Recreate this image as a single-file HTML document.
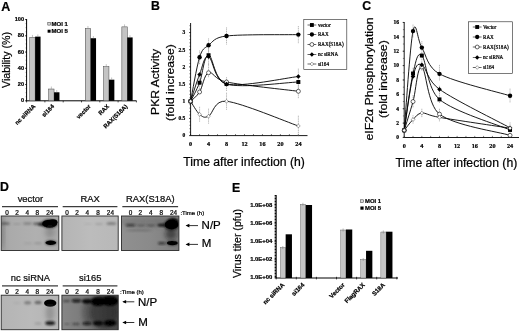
<!DOCTYPE html><html><head><meta charset="utf-8"><title>Figure</title>
<style>html,body{margin:0;padding:0;background:#fff;}svg{display:block;}text{stroke:#000;stroke-width:0.22px;}</style></head><body>
<svg width="520" height="332" viewBox="0 0 520 332">
<defs><filter id="b1" x="-50%" y="-50%" width="200%" height="200%"><feGaussianBlur stdDeviation="1.2"/></filter>
<filter id="b2" x="-50%" y="-50%" width="200%" height="200%"><feGaussianBlur stdDeviation="2"/></filter>
<filter id="b0" x="-50%" y="-50%" width="200%" height="200%"><feGaussianBlur stdDeviation="0.7"/></filter>
<filter id="soft" x="-5%" y="-5%" width="110%" height="110%"><feGaussianBlur stdDeviation="0.35"/></filter></defs>
<rect width="520" height="332" fill="#fff"/>
<g filter="url(#soft)">
<text x="1.2" y="11.1" font-family="Liberation Sans, sans-serif" font-size="12.5" font-weight="bold" fill="#000">A</text>
<text x="150.9" y="10.4" font-family="Liberation Sans, sans-serif" font-size="12.3" font-weight="bold" fill="#000">B</text>
<text x="362.3" y="10.3" font-family="Liberation Sans, sans-serif" font-size="12.3" font-weight="bold" fill="#000">C</text>
<text x="-0.1" y="191.4" font-family="Liberation Sans, sans-serif" font-size="12.3" font-weight="bold" fill="#000">D</text>
<text x="232.1" y="191.5" font-family="Liberation Sans, sans-serif" font-size="12.3" font-weight="bold" fill="#000">E</text>
<g>
<line x1="26.60" y1="19.00" x2="26.60" y2="100.80" stroke="#000" stroke-width="1"/>
<line x1="26.10" y1="100.80" x2="136.50" y2="100.80" stroke="#000" stroke-width="1"/>
<line x1="25.10" y1="100.80" x2="26.60" y2="100.80" stroke="#000" stroke-width="0.7"/>
<text x="24.0" y="102.3" font-family="Liberation Sans, sans-serif" font-size="5.6" font-weight="bold" text-anchor="end" fill="#000">0</text>
<line x1="25.10" y1="84.55" x2="26.60" y2="84.55" stroke="#000" stroke-width="0.7"/>
<text x="24.0" y="86.0" font-family="Liberation Sans, sans-serif" font-size="5.6" font-weight="bold" text-anchor="end" fill="#000">20</text>
<line x1="25.10" y1="68.30" x2="26.60" y2="68.30" stroke="#000" stroke-width="0.7"/>
<text x="24.0" y="69.8" font-family="Liberation Sans, sans-serif" font-size="5.6" font-weight="bold" text-anchor="end" fill="#000">40</text>
<line x1="25.10" y1="52.05" x2="26.60" y2="52.05" stroke="#000" stroke-width="0.7"/>
<text x="24.0" y="53.5" font-family="Liberation Sans, sans-serif" font-size="5.6" font-weight="bold" text-anchor="end" fill="#000">60</text>
<line x1="25.10" y1="35.80" x2="26.60" y2="35.80" stroke="#000" stroke-width="0.7"/>
<text x="24.0" y="37.3" font-family="Liberation Sans, sans-serif" font-size="5.6" font-weight="bold" text-anchor="end" fill="#000">80</text>
<line x1="25.10" y1="19.55" x2="26.60" y2="19.55" stroke="#000" stroke-width="0.7"/>
<text x="24.0" y="21.0" font-family="Liberation Sans, sans-serif" font-size="5.6" font-weight="bold" text-anchor="end" fill="#000">100</text>
<line x1="25.60" y1="100.80" x2="26.60" y2="100.80" stroke="#000" stroke-width="0.4"/>
<line x1="25.60" y1="96.74" x2="26.60" y2="96.74" stroke="#000" stroke-width="0.4"/>
<line x1="25.60" y1="92.67" x2="26.60" y2="92.67" stroke="#000" stroke-width="0.4"/>
<line x1="25.60" y1="88.61" x2="26.60" y2="88.61" stroke="#000" stroke-width="0.4"/>
<line x1="25.60" y1="84.55" x2="26.60" y2="84.55" stroke="#000" stroke-width="0.4"/>
<line x1="25.60" y1="80.49" x2="26.60" y2="80.49" stroke="#000" stroke-width="0.4"/>
<line x1="25.60" y1="76.42" x2="26.60" y2="76.42" stroke="#000" stroke-width="0.4"/>
<line x1="25.60" y1="72.36" x2="26.60" y2="72.36" stroke="#000" stroke-width="0.4"/>
<line x1="25.60" y1="68.30" x2="26.60" y2="68.30" stroke="#000" stroke-width="0.4"/>
<line x1="25.60" y1="64.24" x2="26.60" y2="64.24" stroke="#000" stroke-width="0.4"/>
<line x1="25.60" y1="60.17" x2="26.60" y2="60.17" stroke="#000" stroke-width="0.4"/>
<line x1="25.60" y1="56.11" x2="26.60" y2="56.11" stroke="#000" stroke-width="0.4"/>
<line x1="25.60" y1="52.05" x2="26.60" y2="52.05" stroke="#000" stroke-width="0.4"/>
<line x1="25.60" y1="47.99" x2="26.60" y2="47.99" stroke="#000" stroke-width="0.4"/>
<line x1="25.60" y1="43.92" x2="26.60" y2="43.92" stroke="#000" stroke-width="0.4"/>
<line x1="25.60" y1="39.86" x2="26.60" y2="39.86" stroke="#000" stroke-width="0.4"/>
<line x1="25.60" y1="35.80" x2="26.60" y2="35.80" stroke="#000" stroke-width="0.4"/>
<line x1="25.60" y1="31.74" x2="26.60" y2="31.74" stroke="#000" stroke-width="0.4"/>
<line x1="25.60" y1="27.67" x2="26.60" y2="27.67" stroke="#000" stroke-width="0.4"/>
<line x1="25.60" y1="23.61" x2="26.60" y2="23.61" stroke="#000" stroke-width="0.4"/>
<line x1="25.60" y1="19.55" x2="26.60" y2="19.55" stroke="#000" stroke-width="0.4"/>
<line x1="26.60" y1="100.80" x2="26.60" y2="102.40" stroke="#000" stroke-width="0.7"/>
<line x1="44.90" y1="100.80" x2="44.90" y2="102.40" stroke="#000" stroke-width="0.7"/>
<line x1="63.20" y1="100.80" x2="63.20" y2="102.40" stroke="#000" stroke-width="0.7"/>
<line x1="81.50" y1="100.80" x2="81.50" y2="102.40" stroke="#000" stroke-width="0.7"/>
<line x1="99.80" y1="100.80" x2="99.80" y2="102.40" stroke="#000" stroke-width="0.7"/>
<line x1="118.10" y1="100.80" x2="118.10" y2="102.40" stroke="#000" stroke-width="0.7"/>
<line x1="136.40" y1="100.80" x2="136.40" y2="102.40" stroke="#000" stroke-width="0.7"/>
<rect x="29.75" y="37.42" width="5.40" height="63.38" fill="#c4c4c4" stroke="#444" stroke-width="0.5"/>
<rect x="35.15" y="36.61" width="5.40" height="64.19" fill="#000"/>
<line x1="32.45" y1="34.92" x2="32.45" y2="37.42" stroke="#888" stroke-width="0.5"/>
<line x1="37.85" y1="34.41" x2="37.85" y2="36.61" stroke="#888" stroke-width="0.5"/>
<text transform="translate(35.75,106.80) rotate(-45)" font-family="Liberation Sans, sans-serif" stroke="none" font-size="5.9" font-weight="bold" text-anchor="end" fill="#000">nc siRNA</text>
<rect x="48.65" y="89.02" width="5.40" height="11.78" fill="#c4c4c4" stroke="#444" stroke-width="0.5"/>
<rect x="54.05" y="92.27" width="5.40" height="8.53" fill="#000"/>
<line x1="51.35" y1="86.52" x2="51.35" y2="89.02" stroke="#888" stroke-width="0.5"/>
<line x1="56.75" y1="90.07" x2="56.75" y2="92.27" stroke="#888" stroke-width="0.5"/>
<text transform="translate(54.65,106.80) rotate(-45)" font-family="Liberation Sans, sans-serif" stroke="none" font-size="5.9" font-weight="bold" text-anchor="end" fill="#000">si164</text>
<rect x="85.25" y="28.49" width="5.40" height="72.31" fill="#c4c4c4" stroke="#444" stroke-width="0.5"/>
<rect x="90.65" y="38.24" width="5.40" height="62.56" fill="#000"/>
<line x1="87.95" y1="25.99" x2="87.95" y2="28.49" stroke="#888" stroke-width="0.5"/>
<line x1="93.35" y1="36.04" x2="93.35" y2="38.24" stroke="#888" stroke-width="0.5"/>
<text transform="translate(91.25,106.80) rotate(-45)" font-family="Liberation Sans, sans-serif" stroke="none" font-size="5.9" font-weight="bold" text-anchor="end" fill="#000">vector</text>
<rect x="103.55" y="66.67" width="5.40" height="34.12" fill="#c4c4c4" stroke="#444" stroke-width="0.5"/>
<rect x="108.95" y="79.67" width="5.40" height="21.12" fill="#000"/>
<line x1="106.25" y1="64.17" x2="106.25" y2="66.67" stroke="#888" stroke-width="0.5"/>
<line x1="111.65" y1="77.47" x2="111.65" y2="79.67" stroke="#888" stroke-width="0.5"/>
<text transform="translate(109.55,106.80) rotate(-45)" font-family="Liberation Sans, sans-serif" stroke="none" font-size="5.9" font-weight="bold" text-anchor="end" fill="#000">RAX</text>
<rect x="121.85" y="26.86" width="5.40" height="73.94" fill="#c4c4c4" stroke="#444" stroke-width="0.5"/>
<rect x="127.25" y="37.42" width="5.40" height="63.38" fill="#000"/>
<line x1="124.55" y1="24.36" x2="124.55" y2="26.86" stroke="#888" stroke-width="0.5"/>
<line x1="129.95" y1="35.22" x2="129.95" y2="37.42" stroke="#888" stroke-width="0.5"/>
<text transform="translate(127.85,106.80) rotate(-45)" font-family="Liberation Sans, sans-serif" stroke="none" font-size="5.9" font-weight="bold" text-anchor="end" fill="#000">RAX(S18A)</text>
<rect x="47.8" y="22.5" width="2.6" height="2.6" fill="#d8d8d8" stroke="#333" stroke-width="0.5"/>
<rect x="47.6" y="29.7" width="3" height="3" fill="#000"/>
<text x="51.5" y="26" font-family="Liberation Sans, sans-serif" font-size="6" font-weight="bold" fill="#000">MOI 1</text>
<text x="51.5" y="33.3" font-family="Liberation Sans, sans-serif" font-size="6" font-weight="bold" fill="#000">MOI 5</text>
<text transform="translate(10.3,88) rotate(-90)" font-family="Liberation Sans, sans-serif" font-size="11.5" textLength="56" lengthAdjust="spacingAndGlyphs" fill="#000">Viability (%)</text>
</g>
<g>
<line x1="190.60" y1="23.00" x2="190.60" y2="135.60" stroke="#000" stroke-width="0.9"/>
<line x1="190.60" y1="135.60" x2="307.50" y2="135.60" stroke="#000" stroke-width="0.9"/>
<line x1="189.10" y1="135.60" x2="190.60" y2="135.60" stroke="#000" stroke-width="0.6"/>
<text x="185.3" y="137.4" font-family="Liberation Serif, serif" font-size="5.5" font-weight="bold" text-anchor="end" fill="#000">0</text>
<line x1="189.10" y1="118.42" x2="190.60" y2="118.42" stroke="#000" stroke-width="0.6"/>
<text x="185.3" y="120.2" font-family="Liberation Serif, serif" font-size="5.5" font-weight="bold" text-anchor="end" fill="#000">0.5</text>
<line x1="189.10" y1="101.25" x2="190.60" y2="101.25" stroke="#000" stroke-width="0.6"/>
<text x="185.3" y="103.0" font-family="Liberation Serif, serif" font-size="5.5" font-weight="bold" text-anchor="end" fill="#000">1</text>
<line x1="189.10" y1="84.07" x2="190.60" y2="84.07" stroke="#000" stroke-width="0.6"/>
<text x="185.3" y="85.9" font-family="Liberation Serif, serif" font-size="5.5" font-weight="bold" text-anchor="end" fill="#000">1.5</text>
<line x1="189.10" y1="66.90" x2="190.60" y2="66.90" stroke="#000" stroke-width="0.6"/>
<text x="185.3" y="68.7" font-family="Liberation Serif, serif" font-size="5.5" font-weight="bold" text-anchor="end" fill="#000">2</text>
<line x1="189.10" y1="49.72" x2="190.60" y2="49.72" stroke="#000" stroke-width="0.6"/>
<text x="185.3" y="51.5" font-family="Liberation Serif, serif" font-size="5.5" font-weight="bold" text-anchor="end" fill="#000">2.5</text>
<line x1="189.10" y1="32.55" x2="190.60" y2="32.55" stroke="#000" stroke-width="0.6"/>
<text x="185.3" y="34.3" font-family="Liberation Serif, serif" font-size="5.5" font-weight="bold" text-anchor="end" fill="#000">3</text>
<line x1="189.30" y1="135.60" x2="190.60" y2="135.60" stroke="#000" stroke-width="0.45"/>
<line x1="189.30" y1="132.16" x2="190.60" y2="132.16" stroke="#000" stroke-width="0.45"/>
<line x1="189.30" y1="128.73" x2="190.60" y2="128.73" stroke="#000" stroke-width="0.45"/>
<line x1="189.30" y1="125.29" x2="190.60" y2="125.29" stroke="#000" stroke-width="0.45"/>
<line x1="189.30" y1="121.86" x2="190.60" y2="121.86" stroke="#000" stroke-width="0.45"/>
<line x1="189.30" y1="118.42" x2="190.60" y2="118.42" stroke="#000" stroke-width="0.45"/>
<line x1="189.30" y1="114.99" x2="190.60" y2="114.99" stroke="#000" stroke-width="0.45"/>
<line x1="189.30" y1="111.55" x2="190.60" y2="111.55" stroke="#000" stroke-width="0.45"/>
<line x1="189.30" y1="108.12" x2="190.60" y2="108.12" stroke="#000" stroke-width="0.45"/>
<line x1="189.30" y1="104.69" x2="190.60" y2="104.69" stroke="#000" stroke-width="0.45"/>
<line x1="189.30" y1="101.25" x2="190.60" y2="101.25" stroke="#000" stroke-width="0.45"/>
<line x1="189.30" y1="97.81" x2="190.60" y2="97.81" stroke="#000" stroke-width="0.45"/>
<line x1="189.30" y1="94.38" x2="190.60" y2="94.38" stroke="#000" stroke-width="0.45"/>
<line x1="189.30" y1="90.94" x2="190.60" y2="90.94" stroke="#000" stroke-width="0.45"/>
<line x1="189.30" y1="87.51" x2="190.60" y2="87.51" stroke="#000" stroke-width="0.45"/>
<line x1="189.30" y1="84.07" x2="190.60" y2="84.07" stroke="#000" stroke-width="0.45"/>
<line x1="189.30" y1="80.64" x2="190.60" y2="80.64" stroke="#000" stroke-width="0.45"/>
<line x1="189.30" y1="77.20" x2="190.60" y2="77.20" stroke="#000" stroke-width="0.45"/>
<line x1="189.30" y1="73.77" x2="190.60" y2="73.77" stroke="#000" stroke-width="0.45"/>
<line x1="189.30" y1="70.33" x2="190.60" y2="70.33" stroke="#000" stroke-width="0.45"/>
<line x1="189.30" y1="66.90" x2="190.60" y2="66.90" stroke="#000" stroke-width="0.45"/>
<line x1="189.30" y1="63.46" x2="190.60" y2="63.46" stroke="#000" stroke-width="0.45"/>
<line x1="189.30" y1="60.03" x2="190.60" y2="60.03" stroke="#000" stroke-width="0.45"/>
<line x1="189.30" y1="56.59" x2="190.60" y2="56.59" stroke="#000" stroke-width="0.45"/>
<line x1="189.30" y1="53.16" x2="190.60" y2="53.16" stroke="#000" stroke-width="0.45"/>
<line x1="189.30" y1="49.72" x2="190.60" y2="49.72" stroke="#000" stroke-width="0.45"/>
<line x1="189.30" y1="46.29" x2="190.60" y2="46.29" stroke="#000" stroke-width="0.45"/>
<line x1="189.30" y1="42.85" x2="190.60" y2="42.85" stroke="#000" stroke-width="0.45"/>
<line x1="189.30" y1="39.42" x2="190.60" y2="39.42" stroke="#000" stroke-width="0.45"/>
<line x1="189.30" y1="35.98" x2="190.60" y2="35.98" stroke="#000" stroke-width="0.45"/>
<line x1="189.30" y1="32.55" x2="190.60" y2="32.55" stroke="#000" stroke-width="0.45"/>
<line x1="189.30" y1="29.11" x2="190.60" y2="29.11" stroke="#000" stroke-width="0.45"/>
<line x1="189.30" y1="25.68" x2="190.60" y2="25.68" stroke="#000" stroke-width="0.45"/>
<line x1="190.60" y1="134.00" x2="190.60" y2="135.60" stroke="#000" stroke-width="0.5"/>
<line x1="199.58" y1="134.00" x2="199.58" y2="135.60" stroke="#000" stroke-width="0.5"/>
<line x1="208.56" y1="134.00" x2="208.56" y2="135.60" stroke="#000" stroke-width="0.5"/>
<line x1="217.54" y1="134.00" x2="217.54" y2="135.60" stroke="#000" stroke-width="0.5"/>
<line x1="226.52" y1="134.00" x2="226.52" y2="135.60" stroke="#000" stroke-width="0.5"/>
<line x1="235.50" y1="134.00" x2="235.50" y2="135.60" stroke="#000" stroke-width="0.5"/>
<line x1="244.48" y1="134.00" x2="244.48" y2="135.60" stroke="#000" stroke-width="0.5"/>
<line x1="253.46" y1="134.00" x2="253.46" y2="135.60" stroke="#000" stroke-width="0.5"/>
<line x1="262.44" y1="134.00" x2="262.44" y2="135.60" stroke="#000" stroke-width="0.5"/>
<line x1="271.42" y1="134.00" x2="271.42" y2="135.60" stroke="#000" stroke-width="0.5"/>
<line x1="280.40" y1="134.00" x2="280.40" y2="135.60" stroke="#000" stroke-width="0.5"/>
<line x1="289.38" y1="134.00" x2="289.38" y2="135.60" stroke="#000" stroke-width="0.5"/>
<line x1="298.36" y1="134.00" x2="298.36" y2="135.60" stroke="#000" stroke-width="0.5"/>
<text x="190.6" y="146.4" font-family="Liberation Serif, serif" font-size="6.2" font-weight="bold" text-anchor="middle" fill="#000">0</text>
<text x="208.6" y="146.4" font-family="Liberation Serif, serif" font-size="6.2" font-weight="bold" text-anchor="middle" fill="#000">4</text>
<text x="226.5" y="146.4" font-family="Liberation Serif, serif" font-size="6.2" font-weight="bold" text-anchor="middle" fill="#000">8</text>
<text x="244.5" y="146.4" font-family="Liberation Serif, serif" font-size="6.2" font-weight="bold" text-anchor="middle" fill="#000">12</text>
<text x="262.4" y="146.4" font-family="Liberation Serif, serif" font-size="6.2" font-weight="bold" text-anchor="middle" fill="#000">16</text>
<text x="280.4" y="146.4" font-family="Liberation Serif, serif" font-size="6.2" font-weight="bold" text-anchor="middle" fill="#000">20</text>
<text x="298.4" y="146.4" font-family="Liberation Serif, serif" font-size="6.2" font-weight="bold" text-anchor="middle" fill="#000">24</text>
<line x1="199.58" y1="50.41" x2="199.58" y2="64.15" stroke="#999" stroke-width="0.7" stroke-dasharray="1.2,0.6"/>
<line x1="208.56" y1="38.39" x2="208.56" y2="52.13" stroke="#999" stroke-width="0.7" stroke-dasharray="1.2,0.6"/>
<line x1="226.52" y1="27.40" x2="226.52" y2="44.57" stroke="#999" stroke-width="0.7" stroke-dasharray="1.2,0.6"/>
<line x1="298.36" y1="26.02" x2="298.36" y2="43.20" stroke="#999" stroke-width="0.7" stroke-dasharray="1.2,0.6"/>
<line x1="208.56" y1="48.01" x2="208.56" y2="65.18" stroke="#999" stroke-width="0.7" stroke-dasharray="1.2,0.6"/>
<line x1="208.56" y1="63.46" x2="208.56" y2="77.20" stroke="#999" stroke-width="0.7" stroke-dasharray="1.2,0.6"/>
<line x1="226.52" y1="77.20" x2="226.52" y2="90.94" stroke="#999" stroke-width="0.7" stroke-dasharray="1.2,0.6"/>
<line x1="298.36" y1="68.62" x2="298.36" y2="92.66" stroke="#999" stroke-width="0.7" stroke-dasharray="1.2,0.6"/>
<line x1="298.36" y1="84.42" x2="298.36" y2="98.16" stroke="#999" stroke-width="0.7" stroke-dasharray="1.2,0.6"/>
<line x1="199.58" y1="106.75" x2="199.58" y2="121.86" stroke="#999" stroke-width="0.7" stroke-dasharray="1.2,0.6"/>
<line x1="208.56" y1="108.64" x2="208.56" y2="123.75" stroke="#999" stroke-width="0.7" stroke-dasharray="1.2,0.6"/>
<line x1="226.52" y1="92.66" x2="226.52" y2="109.84" stroke="#999" stroke-width="0.7" stroke-dasharray="1.2,0.6"/>
<line x1="298.36" y1="115.68" x2="298.36" y2="136.29" stroke="#999" stroke-width="0.7" stroke-dasharray="1.2,0.6"/>
<line x1="199.58" y1="75.49" x2="199.58" y2="92.66" stroke="#999" stroke-width="0.7" stroke-dasharray="1.2,0.6"/>
<path d="M190.60,101.25 C192.10,98.16 196.59,90.37 199.58,82.70 C202.57,75.03 204.07,54.99 208.56,55.22 C213.05,55.45 213.95,80.32 226.52,84.07 C241.49,88.54 286.39,82.36 298.36,82.01" fill="none" stroke="#000" stroke-width="0.9"/>
<path d="M190.60,101.25 C192.10,93.92 196.59,66.61 199.58,57.28 C202.57,47.95 204.07,48.81 208.56,45.26 C213.05,41.71 213.95,37.48 226.52,35.98 C241.49,34.21 286.39,34.84 298.36,34.61" fill="none" stroke="#000" stroke-width="0.9"/>
<path d="M190.60,101.25 C192.10,99.70 196.59,96.73 199.58,91.98 C202.57,87.22 204.07,74.40 208.56,72.74 C213.05,71.08 213.95,79.42 226.52,82.01 C241.49,85.11 286.39,89.74 298.36,91.29" fill="none" stroke="#000" stroke-width="0.9"/>
<path d="M190.60,101.25 C192.10,96.78 196.59,81.90 199.58,74.46 C202.57,67.01 204.07,54.99 208.56,56.59 C213.05,58.20 213.95,81.29 226.52,84.07 C241.49,87.40 286.39,77.78 298.36,76.52" fill="none" stroke="#000" stroke-width="0.9"/>
<path d="M190.60,101.25 C192.10,103.43 196.59,111.81 199.58,114.30 C202.57,116.79 204.07,118.37 208.56,116.19 C213.05,114.02 213.95,99.88 226.52,101.25 C241.49,102.88 286.39,121.86 298.36,125.98" fill="none" stroke="#000" stroke-width="0.9"/>
<rect x="188.62" y="99.27" width="3.96" height="3.96" fill="#000"/>
<rect x="197.60" y="80.72" width="3.96" height="3.96" fill="#000"/>
<rect x="206.58" y="53.24" width="3.96" height="3.96" fill="#000"/>
<rect x="224.54" y="82.09" width="3.96" height="3.96" fill="#000"/>
<rect x="296.38" y="80.03" width="3.96" height="3.96" fill="#000"/>
<circle cx="190.60" cy="101.25" r="2.20" fill="#000"/>
<circle cx="199.58" cy="57.28" r="2.20" fill="#000"/>
<circle cx="208.56" cy="45.26" r="2.20" fill="#000"/>
<circle cx="226.52" cy="35.98" r="2.20" fill="#000"/>
<circle cx="298.36" cy="34.61" r="2.20" fill="#000"/>
<circle cx="190.60" cy="101.25" r="2.00" fill="#fff" stroke="#000" stroke-width="0.6"/>
<circle cx="199.58" cy="91.98" r="2.00" fill="#fff" stroke="#000" stroke-width="0.6"/>
<circle cx="208.56" cy="72.74" r="2.00" fill="#fff" stroke="#000" stroke-width="0.6"/>
<circle cx="226.52" cy="82.01" r="2.00" fill="#fff" stroke="#000" stroke-width="0.6"/>
<circle cx="298.36" cy="91.29" r="2.00" fill="#fff" stroke="#000" stroke-width="0.6"/>
<path d="M190.60,98.94 L192.91,101.25 L190.60,103.56 L188.29,101.25Z" fill="#000"/>
<path d="M199.58,72.15 L201.89,74.46 L199.58,76.77 L197.27,74.46Z" fill="#000"/>
<path d="M208.56,54.28 L210.87,56.59 L208.56,58.91 L206.25,56.59Z" fill="#000"/>
<path d="M226.52,81.76 L228.83,84.07 L226.52,86.38 L224.21,84.07Z" fill="#000"/>
<path d="M298.36,74.21 L300.67,76.52 L298.36,78.83 L296.05,76.52Z" fill="#000"/>
<path d="M190.60,99.38 L192.47,101.25 L190.60,103.12 L188.73,101.25Z" fill="#fff" stroke="#333" stroke-width="0.45"/>
<path d="M199.58,112.43 L201.45,114.30 L199.58,116.17 L197.71,114.30Z" fill="#fff" stroke="#333" stroke-width="0.45"/>
<path d="M208.56,114.32 L210.43,116.19 L208.56,118.06 L206.69,116.19Z" fill="#fff" stroke="#333" stroke-width="0.45"/>
<path d="M226.52,99.38 L228.39,101.25 L226.52,103.12 L224.65,101.25Z" fill="#fff" stroke="#333" stroke-width="0.45"/>
<path d="M298.36,124.11 L300.23,125.98 L298.36,127.85 L296.49,125.98Z" fill="#fff" stroke="#333" stroke-width="0.45"/>
</g>
<rect x="303.80" y="19.50" width="43.00" height="49.80" fill="#fff" stroke="#222" stroke-width="0.6"/>
<line x1="307.50" y1="25.00" x2="316.30" y2="25.00" stroke="#000" stroke-width="0.6"/>
<rect x="309.96" y="23.07" width="3.87" height="3.87" fill="#000"/>
<text x="317.9" y="26.7" font-family="Liberation Serif, serif" font-size="5.1" stroke="none" fill="#000">vector</text>
<line x1="307.50" y1="34.50" x2="316.30" y2="34.50" stroke="#000" stroke-width="0.6"/>
<circle cx="311.90" cy="34.50" r="2.15" fill="#000"/>
<text x="317.9" y="36.2" font-family="Liberation Serif, serif" font-size="5.1" stroke="none" fill="#000">RAX</text>
<line x1="307.50" y1="44.50" x2="316.30" y2="44.50" stroke="#000" stroke-width="0.6"/>
<circle cx="311.90" cy="44.50" r="1.95" fill="#fff" stroke="#000" stroke-width="0.6"/>
<text x="317.9" y="46.2" font-family="Liberation Serif, serif" font-size="5.1" stroke="none" fill="#000">RAX(S18A)</text>
<line x1="307.50" y1="54.50" x2="316.30" y2="54.50" stroke="#000" stroke-width="0.6"/>
<path d="M311.90,52.24 L314.16,54.50 L311.90,56.76 L309.64,54.50Z" fill="#000"/>
<text x="317.9" y="56.2" font-family="Liberation Serif, serif" font-size="5.1" stroke="none" fill="#000">nc siRNA</text>
<line x1="307.50" y1="64.00" x2="316.30" y2="64.00" stroke="#000" stroke-width="0.6"/>
<path d="M311.90,62.17 L313.73,64.00 L311.90,65.83 L310.07,64.00Z" fill="#fff" stroke="#333" stroke-width="0.45"/>
<text x="317.9" y="65.7" font-family="Liberation Serif, serif" font-size="5.1" stroke="none" fill="#000">si164</text>
<text transform="translate(159,114.9) rotate(-90)" font-family="Liberation Sans, sans-serif" font-size="11.5" textLength="65.9" lengthAdjust="spacingAndGlyphs" fill="#000">PKR Activity</text>
<text transform="translate(173.6,120.9) rotate(-90)" font-family="Liberation Sans, sans-serif" font-size="11.7" textLength="76.7" lengthAdjust="spacingAndGlyphs" fill="#000">(fold increase)</text>
<text x="183.3" y="165.9" font-family="Liberation Sans, sans-serif" font-size="12" textLength="121.5" lengthAdjust="spacingAndGlyphs" fill="#000">Time after infection (h)</text>
<g>
<line x1="404.20" y1="22.00" x2="404.20" y2="137.50" stroke="#000" stroke-width="0.9"/>
<line x1="404.20" y1="137.50" x2="519.00" y2="137.50" stroke="#000" stroke-width="0.9"/>
<line x1="402.70" y1="137.50" x2="404.20" y2="137.50" stroke="#000" stroke-width="0.6"/>
<text x="398.9" y="139.3" font-family="Liberation Serif, serif" font-size="5.5" font-weight="bold" text-anchor="end" fill="#000">0</text>
<line x1="402.70" y1="123.12" x2="404.20" y2="123.12" stroke="#000" stroke-width="0.6"/>
<text x="398.9" y="124.9" font-family="Liberation Serif, serif" font-size="5.5" font-weight="bold" text-anchor="end" fill="#000">2</text>
<line x1="402.70" y1="108.74" x2="404.20" y2="108.74" stroke="#000" stroke-width="0.6"/>
<text x="398.9" y="110.5" font-family="Liberation Serif, serif" font-size="5.5" font-weight="bold" text-anchor="end" fill="#000">4</text>
<line x1="402.70" y1="94.36" x2="404.20" y2="94.36" stroke="#000" stroke-width="0.6"/>
<text x="398.9" y="96.2" font-family="Liberation Serif, serif" font-size="5.5" font-weight="bold" text-anchor="end" fill="#000">6</text>
<line x1="402.70" y1="79.98" x2="404.20" y2="79.98" stroke="#000" stroke-width="0.6"/>
<text x="398.9" y="81.8" font-family="Liberation Serif, serif" font-size="5.5" font-weight="bold" text-anchor="end" fill="#000">8</text>
<line x1="402.70" y1="65.60" x2="404.20" y2="65.60" stroke="#000" stroke-width="0.6"/>
<text x="398.9" y="67.4" font-family="Liberation Serif, serif" font-size="5.5" font-weight="bold" text-anchor="end" fill="#000">10</text>
<line x1="402.70" y1="51.22" x2="404.20" y2="51.22" stroke="#000" stroke-width="0.6"/>
<text x="398.9" y="53.0" font-family="Liberation Serif, serif" font-size="5.5" font-weight="bold" text-anchor="end" fill="#000">12</text>
<line x1="402.70" y1="36.84" x2="404.20" y2="36.84" stroke="#000" stroke-width="0.6"/>
<text x="398.9" y="38.6" font-family="Liberation Serif, serif" font-size="5.5" font-weight="bold" text-anchor="end" fill="#000">14</text>
<line x1="402.70" y1="22.46" x2="404.20" y2="22.46" stroke="#000" stroke-width="0.6"/>
<text x="398.9" y="24.3" font-family="Liberation Serif, serif" font-size="5.5" font-weight="bold" text-anchor="end" fill="#000">16</text>
<line x1="402.90" y1="137.50" x2="404.20" y2="137.50" stroke="#000" stroke-width="0.45"/>
<line x1="402.90" y1="130.31" x2="404.20" y2="130.31" stroke="#000" stroke-width="0.45"/>
<line x1="402.90" y1="123.12" x2="404.20" y2="123.12" stroke="#000" stroke-width="0.45"/>
<line x1="402.90" y1="115.93" x2="404.20" y2="115.93" stroke="#000" stroke-width="0.45"/>
<line x1="402.90" y1="108.74" x2="404.20" y2="108.74" stroke="#000" stroke-width="0.45"/>
<line x1="402.90" y1="101.55" x2="404.20" y2="101.55" stroke="#000" stroke-width="0.45"/>
<line x1="402.90" y1="94.36" x2="404.20" y2="94.36" stroke="#000" stroke-width="0.45"/>
<line x1="402.90" y1="87.17" x2="404.20" y2="87.17" stroke="#000" stroke-width="0.45"/>
<line x1="402.90" y1="79.98" x2="404.20" y2="79.98" stroke="#000" stroke-width="0.45"/>
<line x1="402.90" y1="72.79" x2="404.20" y2="72.79" stroke="#000" stroke-width="0.45"/>
<line x1="402.90" y1="65.60" x2="404.20" y2="65.60" stroke="#000" stroke-width="0.45"/>
<line x1="402.90" y1="58.41" x2="404.20" y2="58.41" stroke="#000" stroke-width="0.45"/>
<line x1="402.90" y1="51.22" x2="404.20" y2="51.22" stroke="#000" stroke-width="0.45"/>
<line x1="402.90" y1="44.03" x2="404.20" y2="44.03" stroke="#000" stroke-width="0.45"/>
<line x1="402.90" y1="36.84" x2="404.20" y2="36.84" stroke="#000" stroke-width="0.45"/>
<line x1="402.90" y1="29.65" x2="404.20" y2="29.65" stroke="#000" stroke-width="0.45"/>
<line x1="402.90" y1="22.46" x2="404.20" y2="22.46" stroke="#000" stroke-width="0.45"/>
<line x1="404.20" y1="135.90" x2="404.20" y2="137.50" stroke="#000" stroke-width="0.5"/>
<line x1="413.02" y1="135.90" x2="413.02" y2="137.50" stroke="#000" stroke-width="0.5"/>
<line x1="421.84" y1="135.90" x2="421.84" y2="137.50" stroke="#000" stroke-width="0.5"/>
<line x1="430.66" y1="135.90" x2="430.66" y2="137.50" stroke="#000" stroke-width="0.5"/>
<line x1="439.48" y1="135.90" x2="439.48" y2="137.50" stroke="#000" stroke-width="0.5"/>
<line x1="448.30" y1="135.90" x2="448.30" y2="137.50" stroke="#000" stroke-width="0.5"/>
<line x1="457.12" y1="135.90" x2="457.12" y2="137.50" stroke="#000" stroke-width="0.5"/>
<line x1="465.94" y1="135.90" x2="465.94" y2="137.50" stroke="#000" stroke-width="0.5"/>
<line x1="474.76" y1="135.90" x2="474.76" y2="137.50" stroke="#000" stroke-width="0.5"/>
<line x1="483.58" y1="135.90" x2="483.58" y2="137.50" stroke="#000" stroke-width="0.5"/>
<line x1="492.40" y1="135.90" x2="492.40" y2="137.50" stroke="#000" stroke-width="0.5"/>
<line x1="501.22" y1="135.90" x2="501.22" y2="137.50" stroke="#000" stroke-width="0.5"/>
<line x1="510.04" y1="135.90" x2="510.04" y2="137.50" stroke="#000" stroke-width="0.5"/>
<text x="404.2" y="148.3" font-family="Liberation Serif, serif" font-size="6.2" font-weight="bold" text-anchor="middle" fill="#000">0</text>
<text x="421.8" y="148.3" font-family="Liberation Serif, serif" font-size="6.2" font-weight="bold" text-anchor="middle" fill="#000">4</text>
<text x="439.5" y="148.3" font-family="Liberation Serif, serif" font-size="6.2" font-weight="bold" text-anchor="middle" fill="#000">8</text>
<text x="457.1" y="148.3" font-family="Liberation Serif, serif" font-size="6.2" font-weight="bold" text-anchor="middle" fill="#000">12</text>
<text x="474.8" y="148.3" font-family="Liberation Serif, serif" font-size="6.2" font-weight="bold" text-anchor="middle" fill="#000">16</text>
<text x="492.4" y="148.3" font-family="Liberation Serif, serif" font-size="6.2" font-weight="bold" text-anchor="middle" fill="#000">20</text>
<text x="510.0" y="148.3" font-family="Liberation Serif, serif" font-size="6.2" font-weight="bold" text-anchor="middle" fill="#000">24</text>
<line x1="413.02" y1="24.62" x2="413.02" y2="37.56" stroke="#999" stroke-width="0.7" stroke-dasharray="1.2,0.6"/>
<line x1="421.84" y1="41.15" x2="421.84" y2="54.10" stroke="#999" stroke-width="0.7" stroke-dasharray="1.2,0.6"/>
<line x1="439.48" y1="64.88" x2="439.48" y2="80.70" stroke="#999" stroke-width="0.7" stroke-dasharray="1.2,0.6"/>
<line x1="510.04" y1="88.61" x2="510.04" y2="102.99" stroke="#999" stroke-width="0.7" stroke-dasharray="1.2,0.6"/>
<line x1="413.02" y1="67.76" x2="413.02" y2="79.26" stroke="#999" stroke-width="0.7" stroke-dasharray="1.2,0.6"/>
<line x1="421.84" y1="53.38" x2="421.84" y2="70.63" stroke="#999" stroke-width="0.7" stroke-dasharray="1.2,0.6"/>
<line x1="439.48" y1="85.73" x2="439.48" y2="102.99" stroke="#999" stroke-width="0.7" stroke-dasharray="1.2,0.6"/>
<line x1="510.04" y1="122.40" x2="510.04" y2="135.34" stroke="#999" stroke-width="0.7" stroke-dasharray="1.2,0.6"/>
<line x1="413.02" y1="95.08" x2="413.02" y2="108.02" stroke="#999" stroke-width="0.7" stroke-dasharray="1.2,0.6"/>
<line x1="413.02" y1="115.21" x2="413.02" y2="123.84" stroke="#999" stroke-width="0.7" stroke-dasharray="1.2,0.6"/>
<line x1="421.84" y1="108.74" x2="421.84" y2="117.37" stroke="#999" stroke-width="0.7" stroke-dasharray="1.2,0.6"/>
<line x1="439.48" y1="108.74" x2="439.48" y2="121.68" stroke="#999" stroke-width="0.7" stroke-dasharray="1.2,0.6"/>
<path d="M404.20,130.31 C405.67,120.84 410.08,85.97 413.02,73.51 C415.96,61.05 417.43,51.22 421.84,55.53 C426.25,59.85 427.13,88.97 439.48,99.39 C454.18,111.80 498.28,124.86 510.04,129.95" fill="none" stroke="#000" stroke-width="0.9"/>
<path d="M404.20,130.31 C405.67,113.77 410.08,44.87 413.02,31.09 C415.96,17.31 417.43,40.49 421.84,47.62 C426.25,54.76 427.13,67.12 439.48,73.87 C454.18,81.90 498.28,92.14 510.04,95.80" fill="none" stroke="#000" stroke-width="0.9"/>
<path d="M404.20,130.31 C405.67,125.52 410.08,112.10 413.02,101.55 C415.96,91.00 417.43,64.94 421.84,67.04 C426.25,69.14 427.13,104.57 439.48,114.13 C454.18,125.52 498.28,131.81 510.04,135.34" fill="none" stroke="#000" stroke-width="0.9"/>
<path d="M404.20,130.31 C405.67,121.32 410.08,87.29 413.02,76.38 C415.96,65.48 417.43,62.72 421.84,64.88 C426.25,67.04 427.13,80.52 439.48,89.33 C454.18,99.81 498.28,121.38 510.04,127.79" fill="none" stroke="#000" stroke-width="0.9"/>
<path d="M404.20,130.31 C405.67,128.51 410.08,122.40 413.02,119.53 C415.96,116.65 417.43,113.41 421.84,113.05 C426.25,112.69 427.13,115.25 439.48,117.37 C454.18,119.88 498.28,126.36 510.04,128.15" fill="none" stroke="#000" stroke-width="0.9"/>
<rect x="402.22" y="128.33" width="3.96" height="3.96" fill="#000"/>
<rect x="411.04" y="71.53" width="3.96" height="3.96" fill="#000"/>
<rect x="419.86" y="53.55" width="3.96" height="3.96" fill="#000"/>
<rect x="437.50" y="97.41" width="3.96" height="3.96" fill="#000"/>
<rect x="508.06" y="127.97" width="3.96" height="3.96" fill="#000"/>
<circle cx="404.20" cy="130.31" r="2.20" fill="#000"/>
<circle cx="413.02" cy="31.09" r="2.20" fill="#000"/>
<circle cx="421.84" cy="47.62" r="2.20" fill="#000"/>
<circle cx="439.48" cy="73.87" r="2.20" fill="#000"/>
<circle cx="510.04" cy="95.80" r="2.20" fill="#000"/>
<circle cx="404.20" cy="130.31" r="2.00" fill="#fff" stroke="#000" stroke-width="0.6"/>
<circle cx="413.02" cy="101.55" r="2.00" fill="#fff" stroke="#000" stroke-width="0.6"/>
<circle cx="421.84" cy="67.04" r="2.00" fill="#fff" stroke="#000" stroke-width="0.6"/>
<circle cx="439.48" cy="114.13" r="2.00" fill="#fff" stroke="#000" stroke-width="0.6"/>
<circle cx="510.04" cy="135.34" r="2.00" fill="#fff" stroke="#000" stroke-width="0.6"/>
<path d="M404.20,128.00 L406.51,130.31 L404.20,132.62 L401.89,130.31Z" fill="#000"/>
<path d="M413.02,74.07 L415.33,76.38 L413.02,78.69 L410.71,76.38Z" fill="#000"/>
<path d="M421.84,62.57 L424.15,64.88 L421.84,67.19 L419.53,64.88Z" fill="#000"/>
<path d="M439.48,87.02 L441.79,89.33 L439.48,91.64 L437.17,89.33Z" fill="#000"/>
<path d="M510.04,125.48 L512.35,127.79 L510.04,130.10 L507.73,127.79Z" fill="#000"/>
<path d="M404.20,128.44 L406.07,130.31 L404.20,132.18 L402.33,130.31Z" fill="#fff" stroke="#333" stroke-width="0.45"/>
<path d="M413.02,117.66 L414.89,119.53 L413.02,121.40 L411.15,119.53Z" fill="#fff" stroke="#333" stroke-width="0.45"/>
<path d="M421.84,111.18 L423.71,113.05 L421.84,114.92 L419.97,113.05Z" fill="#fff" stroke="#333" stroke-width="0.45"/>
<path d="M439.48,115.50 L441.35,117.37 L439.48,119.24 L437.61,117.37Z" fill="#fff" stroke="#333" stroke-width="0.45"/>
<path d="M510.04,126.28 L511.91,128.15 L510.04,130.02 L508.17,128.15Z" fill="#fff" stroke="#333" stroke-width="0.45"/>
</g>
<rect x="468.30" y="21.80" width="44.20" height="51.50" fill="#fff" stroke="#222" stroke-width="0.6"/>
<line x1="472.80" y1="27.00" x2="481.60" y2="27.00" stroke="#000" stroke-width="0.6"/>
<rect x="475.26" y="25.07" width="3.87" height="3.87" fill="#000"/>
<text x="483.0" y="28.7" font-family="Liberation Serif, serif" font-size="5.1" stroke="none" fill="#000">Vector</text>
<line x1="472.80" y1="37.00" x2="481.60" y2="37.00" stroke="#000" stroke-width="0.6"/>
<circle cx="477.20" cy="37.00" r="2.15" fill="#000"/>
<text x="483.0" y="38.7" font-family="Liberation Serif, serif" font-size="5.1" stroke="none" fill="#000">RAX</text>
<line x1="472.80" y1="47.00" x2="481.60" y2="47.00" stroke="#000" stroke-width="0.6"/>
<circle cx="477.20" cy="47.00" r="1.95" fill="#fff" stroke="#000" stroke-width="0.6"/>
<text x="483.0" y="48.7" font-family="Liberation Serif, serif" font-size="5.1" stroke="none" fill="#000">RAX(S18A)</text>
<line x1="472.80" y1="57.50" x2="481.60" y2="57.50" stroke="#000" stroke-width="0.6"/>
<path d="M477.20,55.24 L479.46,57.50 L477.20,59.76 L474.94,57.50Z" fill="#000"/>
<text x="483.0" y="59.2" font-family="Liberation Serif, serif" font-size="5.1" stroke="none" fill="#000">nc siRNA</text>
<line x1="472.80" y1="67.50" x2="481.60" y2="67.50" stroke="#000" stroke-width="0.6"/>
<path d="M477.20,65.67 L479.03,67.50 L477.20,69.33 L475.37,67.50Z" fill="#fff" stroke="#333" stroke-width="0.45"/>
<text x="483.0" y="69.2" font-family="Liberation Serif, serif" font-size="5.1" stroke="none" fill="#000">si164</text>
<text transform="translate(373.3,140.5) rotate(-90)" font-family="Liberation Sans, sans-serif" font-size="11.5" textLength="123.2" lengthAdjust="spacingAndGlyphs" fill="#000">eIF2α Phosphorylation</text>
<text transform="translate(386.8,118) rotate(-90)" font-family="Liberation Sans, sans-serif" font-size="11.7" textLength="77.8" lengthAdjust="spacingAndGlyphs" fill="#000">(fold increase)</text>
<text x="395.5" y="166.5" font-family="Liberation Sans, sans-serif" font-size="12" textLength="121.8" lengthAdjust="spacingAndGlyphs" fill="#000">Time after infection (h)</text>
<g>
<line x1="276.20" y1="195.00" x2="276.20" y2="278.00" stroke="#000" stroke-width="1"/>
<line x1="275.70" y1="278.00" x2="398.00" y2="278.00" stroke="#000" stroke-width="1"/>
<line x1="274.60" y1="278.00" x2="276.20" y2="278.00" stroke="#000" stroke-width="0.7"/>
<text x="272.3" y="278.9" font-family="Liberation Sans, sans-serif" font-size="5.9" font-weight="bold" text-anchor="end" fill="#000">1.0E+00</text>
<line x1="274.60" y1="259.70" x2="276.20" y2="259.70" stroke="#000" stroke-width="0.7"/>
<text x="272.3" y="260.8" font-family="Liberation Sans, sans-serif" font-size="5.9" font-weight="bold" text-anchor="end" fill="#000">1.0E+02</text>
<line x1="274.60" y1="241.40" x2="276.20" y2="241.40" stroke="#000" stroke-width="0.7"/>
<text x="272.3" y="242.7" font-family="Liberation Sans, sans-serif" font-size="5.9" font-weight="bold" text-anchor="end" fill="#000">1.0E+04</text>
<line x1="274.60" y1="223.10" x2="276.20" y2="223.10" stroke="#000" stroke-width="0.7"/>
<text x="272.3" y="224.7" font-family="Liberation Sans, sans-serif" font-size="5.9" font-weight="bold" text-anchor="end" fill="#000">1.0E+06</text>
<line x1="274.60" y1="204.80" x2="276.20" y2="204.80" stroke="#000" stroke-width="0.7"/>
<text x="272.3" y="206.6" font-family="Liberation Sans, sans-serif" font-size="5.9" font-weight="bold" text-anchor="end" fill="#000">1.0E+08</text>
<line x1="275.30" y1="195" x2="275.30" y2="278.00" stroke="#000" stroke-width="1.3" stroke-dasharray="0.9,0.6"/>
<line x1="276.20" y1="276.80" x2="276.20" y2="279.40" stroke="#000" stroke-width="0.7"/>
<line x1="296.30" y1="276.80" x2="296.30" y2="279.40" stroke="#000" stroke-width="0.7"/>
<line x1="316.40" y1="276.80" x2="316.40" y2="279.40" stroke="#000" stroke-width="0.7"/>
<line x1="336.50" y1="276.80" x2="336.50" y2="279.40" stroke="#000" stroke-width="0.7"/>
<line x1="356.60" y1="276.80" x2="356.60" y2="279.40" stroke="#000" stroke-width="0.7"/>
<line x1="376.70" y1="276.80" x2="376.70" y2="279.40" stroke="#000" stroke-width="0.7"/>
<line x1="396.80" y1="276.80" x2="396.80" y2="279.40" stroke="#000" stroke-width="0.7"/>
<rect x="280.35" y="247.50" width="5.30" height="30.50" fill="#c4c4c4" stroke="#555" stroke-width="0.4"/>
<rect x="285.65" y="234.30" width="6.30" height="43.70" fill="#000"/>
<line x1="282.80" y1="246.00" x2="282.80" y2="249.00" stroke="#777" stroke-width="0.5"/>
<text transform="translate(284.85,285.30) rotate(-45)" font-family="Liberation Sans, sans-serif" stroke="none" font-size="6.2" font-weight="bold" text-anchor="end" fill="#000">nc siRNA</text>
<rect x="300.45" y="204.30" width="5.30" height="73.70" fill="#c4c4c4" stroke="#555" stroke-width="0.4"/>
<rect x="305.75" y="205.00" width="6.30" height="73.00" fill="#000"/>
<line x1="302.90" y1="202.80" x2="302.90" y2="205.80" stroke="#777" stroke-width="0.5"/>
<text transform="translate(304.95,285.30) rotate(-45)" font-family="Liberation Sans, sans-serif" stroke="none" font-size="6.2" font-weight="bold" text-anchor="end" fill="#000">si164</text>
<rect x="340.65" y="230.00" width="5.30" height="48.00" fill="#c4c4c4" stroke="#555" stroke-width="0.4"/>
<rect x="345.95" y="229.50" width="6.30" height="48.50" fill="#000"/>
<line x1="343.10" y1="228.50" x2="343.10" y2="231.50" stroke="#777" stroke-width="0.5"/>
<text transform="translate(345.15,285.30) rotate(-45)" font-family="Liberation Sans, sans-serif" stroke="none" font-size="6.2" font-weight="bold" text-anchor="end" fill="#000">Vector</text>
<rect x="360.75" y="259.50" width="5.30" height="18.50" fill="#c4c4c4" stroke="#555" stroke-width="0.4"/>
<rect x="366.05" y="250.80" width="6.30" height="27.20" fill="#000"/>
<line x1="363.20" y1="258.00" x2="363.20" y2="261.00" stroke="#777" stroke-width="0.5"/>
<text transform="translate(365.25,285.30) rotate(-45)" font-family="Liberation Sans, sans-serif" stroke="none" font-size="6.2" font-weight="bold" text-anchor="end" fill="#000">FlagRAX</text>
<rect x="380.85" y="232.00" width="5.30" height="46.00" fill="#c4c4c4" stroke="#555" stroke-width="0.4"/>
<rect x="386.15" y="231.70" width="6.30" height="46.30" fill="#000"/>
<line x1="383.30" y1="230.50" x2="383.30" y2="233.50" stroke="#777" stroke-width="0.5"/>
<text transform="translate(385.35,285.30) rotate(-45)" font-family="Liberation Sans, sans-serif" stroke="none" font-size="6.2" font-weight="bold" text-anchor="end" fill="#000">S18A</text>
<rect x="360.6" y="199.8" width="2.8" height="2.8" fill="#d8d8d8" stroke="#333" stroke-width="0.5"/>
<rect x="360.4" y="206.5" width="3.2" height="3.2" fill="#000"/>
<text x="365" y="203.3" font-family="Liberation Sans, sans-serif" font-size="5.9" font-weight="bold" fill="#000">MOI 1</text>
<text x="365" y="210.2" font-family="Liberation Sans, sans-serif" font-size="5.9" font-weight="bold" fill="#000">MOI 5</text>
<text transform="translate(241.3,278) rotate(-90)" font-family="Liberation Sans, sans-serif" font-size="11" textLength="69.1" lengthAdjust="spacingAndGlyphs" fill="#000">Virus titer (pfu)</text>
</g>
<text x="30.4" y="201.6" font-family="Liberation Sans, sans-serif" font-size="9.4" text-anchor="middle" fill="#111">vector</text>
<line x1="2.00" y1="206.70" x2="58.00" y2="206.70" stroke="#111" stroke-width="1"/>
<text x="7.1" y="214.9" font-family="Liberation Sans, sans-serif" font-size="6.4" stroke="none" text-anchor="middle" fill="#111">0</text>
<text x="17.0" y="214.9" font-family="Liberation Sans, sans-serif" font-size="6.4" stroke="none" text-anchor="middle" fill="#111">2</text>
<text x="27.2" y="214.9" font-family="Liberation Sans, sans-serif" font-size="6.4" stroke="none" text-anchor="middle" fill="#111">4</text>
<text x="37.3" y="214.9" font-family="Liberation Sans, sans-serif" font-size="6.4" stroke="none" text-anchor="middle" fill="#111">8</text>
<text x="49.8" y="214.9" font-family="Liberation Sans, sans-serif" font-size="6.4" stroke="none" text-anchor="middle" fill="#111">24</text>
<clipPath id="c1_216"><rect x="1.20" y="216.00" width="57.60" height="34.50"/></clipPath>
<linearGradient id="g1_216" x1="0" y1="0" x2="1" y2="0"><stop offset="0" stop-color="#9e9e9e"/><stop offset="0.15" stop-color="#aaaaaa"/><stop offset="0.6" stop-color="#b0b0b0"/><stop offset="1" stop-color="#aaaaaa"/></linearGradient>
<rect x="1.20" y="216.00" width="57.60" height="34.50" fill="url(#g1_216)"/>
<g clip-path="url(#c1_216)">
<ellipse cx="49.60" cy="223.70" rx="7.40" ry="4.00" fill="#000" opacity="1.00" filter="url(#b0)"/>
<ellipse cx="53.00" cy="222.30" rx="4.50" ry="3.00" fill="#000" opacity="1.00" filter="url(#b0)"/>
<ellipse cx="49.60" cy="223.70" rx="8.20" ry="4.60" fill="#000" opacity="0.60" filter="url(#b1)"/>
<ellipse cx="42.00" cy="224.30" rx="4.00" ry="1.80" fill="#000" opacity="0.70" filter="url(#b1)"/>
<ellipse cx="37.00" cy="223.80" rx="4.00" ry="1.40" fill="#222" opacity="0.55" filter="url(#b1)"/>
<ellipse cx="27.50" cy="223.50" rx="4.50" ry="1.30" fill="#444" opacity="0.40" filter="url(#b1)"/>
<ellipse cx="17.00" cy="224.00" rx="4.00" ry="1.00" fill="#666" opacity="0.25" filter="url(#b1)"/>
<ellipse cx="5.00" cy="223.50" rx="5.00" ry="1.60" fill="#333" opacity="0.50" filter="url(#b1)"/>
<ellipse cx="2.00" cy="233.00" rx="2.00" ry="17.00" fill="#555" opacity="0.40" filter="url(#b2)"/>
<ellipse cx="50.00" cy="232.00" rx="5.00" ry="6.00" fill="#555" opacity="0.30" filter="url(#b2)"/>
<ellipse cx="50.80" cy="242.70" rx="5.40" ry="2.20" fill="#000" opacity="1.00" filter="url(#b0)"/>
<ellipse cx="50.80" cy="242.70" rx="6.00" ry="2.80" fill="#000" opacity="0.50" filter="url(#b1)"/>
<ellipse cx="38.00" cy="243.20" rx="4.00" ry="1.00" fill="#555" opacity="0.28" filter="url(#b1)"/>
<ellipse cx="28.00" cy="243.40" rx="4.00" ry="0.90" fill="#666" opacity="0.18" filter="url(#b1)"/>
</g>
<rect x="1.20" y="216.00" width="57.60" height="34.50" fill="none" stroke="#2a2a2a" stroke-width="0.9"/>
<text x="90.2" y="201.6" font-family="Liberation Sans, sans-serif" font-size="9.4" text-anchor="middle" fill="#111">RAX</text>
<line x1="62.70" y1="206.70" x2="117.40" y2="206.70" stroke="#111" stroke-width="1"/>
<text x="67.0" y="214.9" font-family="Liberation Sans, sans-serif" font-size="6.4" stroke="none" text-anchor="middle" fill="#111">0</text>
<text x="77.0" y="214.9" font-family="Liberation Sans, sans-serif" font-size="6.4" stroke="none" text-anchor="middle" fill="#111">2</text>
<text x="87.4" y="214.9" font-family="Liberation Sans, sans-serif" font-size="6.4" stroke="none" text-anchor="middle" fill="#111">4</text>
<text x="98.0" y="214.9" font-family="Liberation Sans, sans-serif" font-size="6.4" stroke="none" text-anchor="middle" fill="#111">8</text>
<text x="110.4" y="214.9" font-family="Liberation Sans, sans-serif" font-size="6.4" stroke="none" text-anchor="middle" fill="#111">24</text>
<clipPath id="c61_216"><rect x="61.90" y="216.00" width="56.30" height="34.50"/></clipPath>
<linearGradient id="g61_216" x1="0" y1="0" x2="1" y2="0"><stop offset="0" stop-color="#b4b4b4"/><stop offset="0.5" stop-color="#bcbcbc"/><stop offset="1" stop-color="#b8b8b8"/></linearGradient>
<rect x="61.90" y="216.00" width="56.30" height="34.50" fill="url(#g61_216)"/>
<g clip-path="url(#c61_216)">
<ellipse cx="111.40" cy="223.50" rx="5.00" ry="1.50" fill="#555" opacity="0.55" filter="url(#b1)"/>
<ellipse cx="99.00" cy="224.00" rx="4.00" ry="1.10" fill="#777" opacity="0.35" filter="url(#b1)"/>
<ellipse cx="88.00" cy="224.00" rx="4.00" ry="1.00" fill="#888" opacity="0.20" filter="url(#b1)"/>
</g>
<rect x="61.90" y="216.00" width="56.30" height="34.50" fill="none" stroke="#2a2a2a" stroke-width="0.9"/>
<text x="150.3" y="201.6" font-family="Liberation Sans, sans-serif" font-size="9.4" text-anchor="middle" fill="#111">RAX(S18A)</text>
<line x1="122.30" y1="206.70" x2="178.10" y2="206.70" stroke="#111" stroke-width="1"/>
<text x="130.5" y="214.9" font-family="Liberation Sans, sans-serif" font-size="6.4" stroke="none" text-anchor="middle" fill="#111">0</text>
<text x="140.4" y="214.9" font-family="Liberation Sans, sans-serif" font-size="6.4" stroke="none" text-anchor="middle" fill="#111">2</text>
<text x="150.8" y="214.9" font-family="Liberation Sans, sans-serif" font-size="6.4" stroke="none" text-anchor="middle" fill="#111">4</text>
<text x="161.2" y="214.9" font-family="Liberation Sans, sans-serif" font-size="6.4" stroke="none" text-anchor="middle" fill="#111">8</text>
<text x="173.6" y="214.9" font-family="Liberation Sans, sans-serif" font-size="6.4" stroke="none" text-anchor="middle" fill="#111">24</text>
<clipPath id="c121_216"><rect x="121.50" y="216.00" width="57.40" height="34.50"/></clipPath>
<linearGradient id="g121_216" x1="0" y1="0" x2="1" y2="0"><stop offset="0" stop-color="#909090"/><stop offset="0.5" stop-color="#8a8a8a"/><stop offset="1" stop-color="#7c7c7c"/></linearGradient>
<rect x="121.50" y="216.00" width="57.40" height="34.50" fill="url(#g121_216)"/>
<g clip-path="url(#c121_216)">
<ellipse cx="150.00" cy="222.00" rx="30.00" ry="5.00" fill="#555" opacity="0.30" filter="url(#b2)"/>
<ellipse cx="171.60" cy="224.70" rx="6.80" ry="4.80" fill="#000" opacity="1.00" filter="url(#b0)"/>
<ellipse cx="173.00" cy="222.00" rx="5.50" ry="4.00" fill="#000" opacity="0.90" filter="url(#b1)"/>
<ellipse cx="171.60" cy="224.90" rx="8.00" ry="6.00" fill="#000" opacity="0.55" filter="url(#b1)"/>
<ellipse cx="171.00" cy="234.00" rx="6.00" ry="6.00" fill="#111" opacity="0.50" filter="url(#b2)"/>
<ellipse cx="162.00" cy="225.20" rx="4.60" ry="1.40" fill="#000" opacity="0.85" filter="url(#b1)"/>
<ellipse cx="151.00" cy="225.60" rx="4.30" ry="1.10" fill="#222" opacity="0.45" filter="url(#b1)"/>
<ellipse cx="141.00" cy="225.60" rx="4.30" ry="1.10" fill="#222" opacity="0.40" filter="url(#b1)"/>
<ellipse cx="130.50" cy="225.20" rx="5.00" ry="1.30" fill="#111" opacity="0.65" filter="url(#b1)"/>
<ellipse cx="139.00" cy="230.30" rx="14.00" ry="0.90" fill="#444" opacity="0.40" filter="url(#b1)"/>
<ellipse cx="172.30" cy="243.10" rx="5.40" ry="2.10" fill="#000" opacity="1.00" filter="url(#b0)"/>
<ellipse cx="172.30" cy="243.10" rx="6.00" ry="2.70" fill="#000" opacity="0.50" filter="url(#b1)"/>
<ellipse cx="161.80" cy="243.30" rx="4.00" ry="1.30" fill="#111" opacity="0.70" filter="url(#b1)"/>
</g>
<rect x="121.50" y="216.00" width="57.40" height="34.50" fill="none" stroke="#2a2a2a" stroke-width="0.9"/>
<text x="30.4" y="280.8" font-family="Liberation Sans, sans-serif" font-size="9.4" text-anchor="middle" fill="#111">nc siRNA</text>
<line x1="2.00" y1="285.90" x2="58.00" y2="285.90" stroke="#111" stroke-width="1"/>
<text x="7.1" y="294.1" font-family="Liberation Sans, sans-serif" font-size="6.4" stroke="none" text-anchor="middle" fill="#111">0</text>
<text x="17.0" y="294.1" font-family="Liberation Sans, sans-serif" font-size="6.4" stroke="none" text-anchor="middle" fill="#111">2</text>
<text x="27.2" y="294.1" font-family="Liberation Sans, sans-serif" font-size="6.4" stroke="none" text-anchor="middle" fill="#111">4</text>
<text x="37.3" y="294.1" font-family="Liberation Sans, sans-serif" font-size="6.4" stroke="none" text-anchor="middle" fill="#111">8</text>
<text x="49.8" y="294.1" font-family="Liberation Sans, sans-serif" font-size="6.4" stroke="none" text-anchor="middle" fill="#111">24</text>
<clipPath id="c1_295"><rect x="1.20" y="295.20" width="57.60" height="34.50"/></clipPath>
<linearGradient id="g1_295" x1="0" y1="0" x2="1" y2="0"><stop offset="0" stop-color="#b4b4b4"/><stop offset="0.5" stop-color="#bababa"/><stop offset="1" stop-color="#b4b4b4"/></linearGradient>
<rect x="1.20" y="295.20" width="57.60" height="34.50" fill="url(#g1_295)"/>
<g clip-path="url(#c1_295)">
<ellipse cx="50.20" cy="303.10" rx="6.20" ry="3.70" fill="#000" opacity="1.00" filter="url(#b0)"/>
<ellipse cx="38.10" cy="302.50" rx="3.60" ry="1.70" fill="#333" opacity="0.60" filter="url(#b1)"/>
<ellipse cx="27.70" cy="302.80" rx="3.60" ry="1.70" fill="#444" opacity="0.50" filter="url(#b1)"/>
<ellipse cx="17.00" cy="303.00" rx="3.50" ry="1.20" fill="#888" opacity="0.20" filter="url(#b1)"/>
<ellipse cx="50.20" cy="323.10" rx="5.00" ry="2.20" fill="#111" opacity="0.90" filter="url(#b1)"/>
<ellipse cx="50.00" cy="313.00" rx="4.50" ry="8.00" fill="#666" opacity="0.40" filter="url(#b2)"/>
<ellipse cx="38.00" cy="323.50" rx="3.50" ry="1.00" fill="#666" opacity="0.35" filter="url(#b1)"/>
</g>
<rect x="1.20" y="295.20" width="57.60" height="34.50" fill="none" stroke="#2a2a2a" stroke-width="0.9"/>
<text x="90.2" y="280.8" font-family="Liberation Sans, sans-serif" font-size="9.4" text-anchor="middle" fill="#111">si165</text>
<line x1="62.70" y1="285.90" x2="117.40" y2="285.90" stroke="#111" stroke-width="1"/>
<text x="67.0" y="294.1" font-family="Liberation Sans, sans-serif" font-size="6.4" stroke="none" text-anchor="middle" fill="#111">0</text>
<text x="77.0" y="294.1" font-family="Liberation Sans, sans-serif" font-size="6.4" stroke="none" text-anchor="middle" fill="#111">2</text>
<text x="87.4" y="294.1" font-family="Liberation Sans, sans-serif" font-size="6.4" stroke="none" text-anchor="middle" fill="#111">4</text>
<text x="98.0" y="294.1" font-family="Liberation Sans, sans-serif" font-size="6.4" stroke="none" text-anchor="middle" fill="#111">8</text>
<text x="110.4" y="294.1" font-family="Liberation Sans, sans-serif" font-size="6.4" stroke="none" text-anchor="middle" fill="#111">24</text>
<clipPath id="c61_295"><rect x="61.90" y="295.20" width="56.30" height="34.50"/></clipPath>
<linearGradient id="g61_295" x1="0" y1="0" x2="1" y2="0"><stop offset="0" stop-color="#868686"/><stop offset="0.4" stop-color="#7a7a7a"/><stop offset="0.7" stop-color="#606060"/><stop offset="1" stop-color="#484848"/></linearGradient>
<rect x="61.90" y="295.20" width="56.30" height="34.50" fill="url(#g61_295)"/>
<g clip-path="url(#c61_295)">
<ellipse cx="104.00" cy="312.00" rx="14.00" ry="17.00" fill="#1a1a1a" opacity="0.55" filter="url(#b2)"/>
<ellipse cx="88.00" cy="312.00" rx="6.00" ry="12.00" fill="#333" opacity="0.40" filter="url(#b2)"/>
<ellipse cx="110.00" cy="301.00" rx="8.50" ry="5.00" fill="#000" opacity="1.00" filter="url(#b1)"/>
<ellipse cx="98.00" cy="301.50" rx="7.50" ry="4.50" fill="#000" opacity="1.00" filter="url(#b1)"/>
<ellipse cx="87.00" cy="301.30" rx="5.00" ry="2.40" fill="#000" opacity="0.90" filter="url(#b1)"/>
<ellipse cx="76.50" cy="300.80" rx="5.00" ry="1.80" fill="#0a0a0a" opacity="0.85" filter="url(#b1)"/>
<ellipse cx="66.50" cy="301.00" rx="3.50" ry="1.30" fill="#222" opacity="0.55" filter="url(#b1)"/>
<ellipse cx="110.00" cy="323.00" rx="6.50" ry="3.00" fill="#000" opacity="1.00" filter="url(#b1)"/>
<ellipse cx="98.00" cy="323.30" rx="5.00" ry="2.20" fill="#000" opacity="0.90" filter="url(#b1)"/>
<ellipse cx="87.00" cy="323.50" rx="4.50" ry="1.70" fill="#0a0a0a" opacity="0.80" filter="url(#b1)"/>
<ellipse cx="76.00" cy="324.00" rx="4.00" ry="1.20" fill="#222" opacity="0.50" filter="url(#b1)"/>
<ellipse cx="67.00" cy="324.00" rx="3.00" ry="1.00" fill="#333" opacity="0.35" filter="url(#b1)"/>
</g>
<rect x="61.90" y="295.20" width="56.30" height="34.50" fill="none" stroke="#2a2a2a" stroke-width="0.9"/>
<text x="180.4" y="214.9" font-family="Liberation Sans, sans-serif" font-size="6" stroke-width="0.1" fill="#111">:Time (h)</text>
<text x="120" y="294.1" font-family="Liberation Sans, sans-serif" font-size="6" stroke-width="0.1" fill="#111">:Time (h)</text>
<line x1="186.60" y1="225.60" x2="198.00" y2="225.60" stroke="#000" stroke-width="0.8"/>
<path d="M185.60,225.60 L189.40,223.80 L189.40,227.40Z" fill="#000"/>
<line x1="186.60" y1="244.40" x2="198.00" y2="244.40" stroke="#000" stroke-width="0.8"/>
<path d="M185.60,244.40 L189.40,242.60 L189.40,246.20Z" fill="#000"/>
<text x="201.6" y="228.8" font-family="Liberation Sans, sans-serif" font-size="11.5" fill="#000">N/P</text>
<text x="201.8" y="247.3" font-family="Liberation Sans, sans-serif" font-size="11.5" fill="#000">M</text>
<line x1="123.30" y1="301.80" x2="134.30" y2="301.80" stroke="#000" stroke-width="0.8"/>
<path d="M122.30,301.80 L126.10,300.00 L126.10,303.60Z" fill="#000"/>
<line x1="123.30" y1="322.50" x2="134.30" y2="322.50" stroke="#000" stroke-width="0.8"/>
<path d="M122.30,322.50 L126.10,320.70 L126.10,324.30Z" fill="#000"/>
<text x="138" y="305.6" font-family="Liberation Sans, sans-serif" font-size="11.5" fill="#000">N/P</text>
<text x="138.3" y="326.3" font-family="Liberation Sans, sans-serif" font-size="11.5" fill="#000">M</text>
</g></svg></body></html>
